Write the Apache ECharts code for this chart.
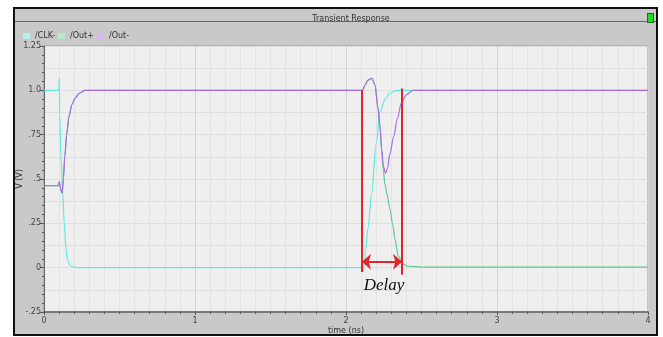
<!DOCTYPE html>
<html>
<head>
<meta charset="utf-8">
<script src="https://cdn.jsdelivr.net/npm/echarts@6/dist/echarts.min.js"></script>
<style>
  html, body { margin: 0; padding: 0; background: #fff; }
  #frame {
    position: absolute; left: 13px; top: 7px; width: 641px; height: 325px;
    background: #c9c9c9; border: 2px solid #111;
  }
  #titlebar {
    position: absolute; left: 0; top: 0; width: 641px; height: 12px;
    border-bottom: 1px solid #666;
  }
  #led {
    position: absolute; left: 632px; top: 4px; width: 5px; height: 8px;
    background: #22d822; border: 1px solid #137013;
  }
  #chart { position: absolute; left: 0; top: 0; width: 663px; height: 337px; }
</style>
</head>
<body>
<div id="frame"><div id="titlebar"></div><div id="led"></div></div>
<div id="chart"></div>
<script>
// signals (time in ns, volts)
const clkTime = [0, 0.096, 0.099, 0.101, 0.104, 0.112, 0.124, 0.134, 0.146, 0.155, 0.17, 0.19, 0.23,
  2.106, 2.112, 2.118, 2.13, 2.145, 2.17, 2.2, 2.225, 2.26, 2.29, 2.336, 2.4, 4];
const clkVolt = [1.0, 1.0, 1.01, 1.068, 0.86, 0.63, 0.42, 0.25, 0.1, 0.045, 0.015, 0.005, 0,
  0, -0.02, 0, 0.1, 0.22, 0.42, 0.7, 0.88, 0.95, 0.985, 1.0, 1.0, 1.0];

const outPlusTime = [0, 0.09, 0.098, 0.101, 0.108, 0.121, 0.128, 0.138, 0.15, 0.165, 0.185, 0.205, 0.235, 0.272,
  2.11, 2.126, 2.146, 2.172, 2.192, 2.212, 2.225, 2.236, 2.247, 2.258, 2.27, 2.291, 2.31, 2.325, 2.346, 2.38, 2.41, 2.51, 4];
const outPlusVolt = [0.462, 0.462, 0.47, 0.486, 0.45, 0.42, 0.5, 0.63, 0.75, 0.85, 0.92, 0.955, 0.985, 1.0,
  1.0, 1.03, 1.058, 1.068, 1.03, 0.9, 0.796, 0.66, 0.55, 0.47, 0.42, 0.33, 0.24, 0.158, 0.064, 0.02, 0.008, 0.003, 0.003];

const outMinusTime = [0, 0.09, 0.098, 0.101, 0.108, 0.121, 0.128, 0.138, 0.15, 0.165, 0.185, 0.205, 0.235, 0.272,
  2.11, 2.126, 2.146, 2.172, 2.192, 2.212, 2.225, 2.236, 2.248, 2.262, 2.275, 2.29, 2.316, 2.34, 2.366, 2.4, 2.444, 4];
const outMinusVolt = [0.462, 0.462, 0.47, 0.486, 0.45, 0.42, 0.5, 0.63, 0.75, 0.85, 0.92, 0.955, 0.985, 1.0,
  1.0, 1.03, 1.058, 1.068, 1.03, 0.9, 0.796, 0.67, 0.57, 0.533, 0.56, 0.64, 0.74, 0.84, 0.927, 0.975, 1.0, 1.0];

const yTicks = [-0.25, 0, 0.25, 0.5, 0.75, 1.0, 1.25];
const yTickLabels = ['-.25', '0', '.25', '.5', '.75', '1.0', '1.25'];

// delay annotation (ns / V)
const delayStart = 2.106;
const delayEnd = 2.371;
const delayTopStart = 1.0;
const delayTopEnd = 1.01;
const delayBottomStart = -0.025;
const delayBottomEnd = -0.04;
const arrowLevel = 0.034;
const delayLabelPos = [2.252, -0.1];

const zip = (t, v) => t.map((x, i) => [x, v[i]]);
const uiFont = 'DejaVu Sans';
const red = '#e3262b';

const chart = echarts.init(document.getElementById('chart'));

chart.setOption({
  animation: false,
  title: {
    text: 'Transient Response',
    left: 346, top: 10, textAlign: 'center',
    textStyle: { fontFamily: uiFont, fontSize: 8, fontWeight: 'normal', color: '#333' }
  },
  legend: {
    left: 18, top: 27,
    icon: 'rect', itemWidth: 7, itemHeight: 6, itemGap: 3,
    textStyle: { fontFamily: uiFont, fontSize: 8, color: '#333' },
    data: [
      { name: '/CLK-', itemStyle: { color: '#aef3ef' } },
      { name: '/Out+', itemStyle: { color: '#b9ead0' } },
      { name: '/Out-', itemStyle: { color: '#dcb8f0' } }
    ]
  },
  grid: {
    left: 44, right: 15, top: 46, bottom: 25,
    outerBoundsMode: 'none',
    show: true, backgroundColor: '#efefef', borderColor: '#999', borderWidth: 1
  },
  xAxis: {
    type: 'value', min: 0, max: 4, interval: 1,
    name: 'time (ns)', nameLocation: 'middle', nameGap: 15, nameMoveOverlap: false,
    nameTextStyle: { fontFamily: uiFont, fontSize: 8, color: '#333' },
    axisLine: { onZero: false, lineStyle: { color: '#777', width: 2 } },
    axisTick: { show: true, length: 3, lineStyle: { color: '#555' } },
    minorTick: { show: true, splitNumber: 10, length: 2, lineStyle: { color: '#555' } },
    axisLabel: { fontFamily: uiFont, fontSize: 8, color: '#444', margin: 5 },
    splitLine: { show: true, lineStyle: { color: '#d2d2d2' } },
    minorSplitLine: { show: true, lineStyle: { color: '#e3e3e3' } }
  },
  yAxis: [{
    type: 'value', min: -0.25, max: 1.25, interval: 0.25,
    name: 'V (V)', nameLocation: 'middle', nameGap: 20, nameMoveOverlap: false,
    nameTextStyle: { fontFamily: uiFont, fontSize: 8, color: '#333' },
    axisLine: { show: true, onZero: false, lineStyle: { color: '#666' } },
    axisTick: { show: true, length: 4, lineStyle: { color: '#555' } },
    minorTick: { show: true, splitNumber: 5, length: 2, lineStyle: { color: '#555' } },
    axisLabel: {
      fontFamily: uiFont, fontSize: 8, color: '#444', margin: 3,
      formatter: v => {
        const i = yTicks.findIndex(t => Math.abs(t - v) < 1e-6);
        return i >= 0 ? yTickLabels[i] : '';
      }
    },
    splitLine: { show: false }
  }, {
    // finer horizontal grid
    type: 'value', min: -0.25, max: 1.25, interval: 0.125, position: 'left',
    axisLine: { show: false }, axisTick: { show: false }, axisLabel: { show: false },
    splitLine: { show: true, lineStyle: { color: '#dedede' } }
  }],
  series: [
    {
      name: '/CLK-', type: 'line', data: zip(clkTime, clkVolt),
      showSymbol: false, smooth: 0.3, smoothMonotone: 'x',
      lineStyle: { color: '#5eeade', width: 1.2 }, itemStyle: { color: '#5eeade' }
    },
    {
      name: '/Out+', type: 'line', data: zip(outPlusTime, outPlusVolt),
      showSymbol: false, smooth: 0.3, smoothMonotone: 'x',
      lineStyle: { color: '#5fca8e', width: 1.2 }, itemStyle: { color: '#5fca8e' }
    },
    {
      name: '/Out-', type: 'line', data: zip(outMinusTime, outMinusVolt),
      showSymbol: false, smooth: 0.3, smoothMonotone: 'x',
      lineStyle: { color: '#a66ee0', width: 1.2 }, itemStyle: { color: '#a66ee0' }
    },
    {
      name: 'delay', type: 'line', data: [], z: 5,
      markLine: {
        silent: true, animation: false,
        label: { show: false },
        lineStyle: { color: red, width: 2, type: 'solid' },
        data: [
          [{ coord: [delayStart, delayTopStart], symbol: 'none' }, { coord: [delayStart, delayBottomStart], symbol: 'none' }],
          [{ coord: [delayEnd, delayTopEnd], symbol: 'none' }, { coord: [delayEnd, delayBottomEnd], symbol: 'none' }],
          [{ coord: [delayStart, arrowLevel], symbol: 'arrow', symbolSize: [12, 9] },
           { coord: [delayEnd, arrowLevel], symbol: 'arrow', symbolSize: [12, 9] }]
        ]
      },
      markPoint: {
        silent: true, symbol: 'rect', symbolSize: 1,
        itemStyle: { color: 'rgba(0,0,0,0)' },
        label: {
          show: true, position: 'inside', formatter: 'Delay',
          fontFamily: 'Liberation Serif', fontStyle: 'italic', fontSize: 17, color: '#111'
        },
        data: [{ coord: delayLabelPos }]
      }
    }
  ]
});
</script>
</body>
</html>
